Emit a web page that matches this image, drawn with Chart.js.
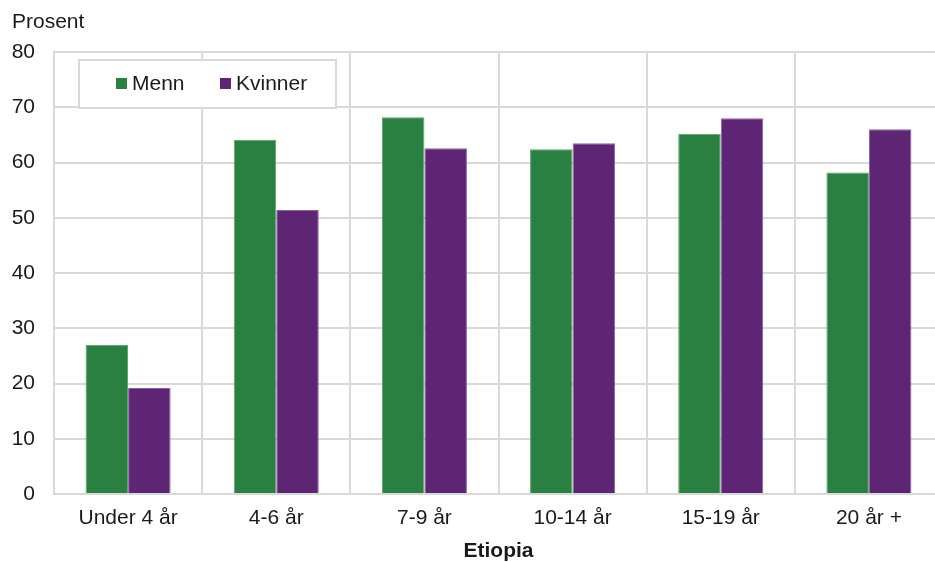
<!DOCTYPE html>
<html>
<head>
<meta charset="utf-8">
<script src="https://cdn.jsdelivr.net/npm/chart.js@4"></script>
<style>
  html, body { margin: 0; padding: 0; background: #fff; overflow: hidden; }
  #wrap { position: relative; width: 950px; height: 562px; }
</style>
</head>
<body>
<div id="wrap"><canvas id="chart"></canvas></div>
<script>
const categories = ['Under 4 år', '4-6 år', '7-9 år', '10-14 år', '15-19 år', '20 år +'];
const menn = [27.0, 64.1, 68.2, 62.4, 65.2, 58.2];
const kvinner = [19.2, 51.4, 62.6, 63.5, 68.0, 66.0];
const seriesNames = ['Menn', 'Kvinner'];
const yTitle = 'Prosent';
const xTitle = 'Etiopia';

const green = '#2a8040';
const purple = '#5e2574';
const gridColor = '#d9d9d9';
const fontStr = "21px 'Liberation Sans', Arial, sans-serif";

Chart.defaults.font.family = "'Liberation Sans', Arial, sans-serif";
Chart.defaults.font.size = 21;
Chart.defaults.color = '#1a1a1a';

// legend box sits inside the plot, over the grid
const boxLegend = {
  id: 'boxLegend',
  afterDatasetsDraw(chart) {
    const ctx = chart.ctx;
    ctx.save();
    ctx.fillStyle = '#fff';
    ctx.fillRect(79, 60, 257, 48);
    ctx.strokeStyle = gridColor;
    ctx.lineWidth = 2;
    ctx.strokeRect(79, 60, 257, 48);
    const xs = [116, 220];
    ctx.font = fontStr;
    ctx.textBaseline = 'middle';
    chart.data.datasets.forEach((ds, i) => {
      ctx.fillStyle = ds.backgroundColor;
      ctx.fillRect(xs[i], 78, 11, 11);
      ctx.fillStyle = '#1a1a1a';
      ctx.fillText(ds.label, xs[i] + 16, 84);
    });
    ctx.restore();
  }
};

// "Prosent" label above the y axis
const topLabel = {
  id: 'topLabel',
  afterDraw(chart) {
    const ctx = chart.ctx;
    ctx.save();
    ctx.font = fontStr;
    ctx.fillStyle = '#1a1a1a';
    ctx.textBaseline = 'middle';
    ctx.fillText(yTitle, 12, 22);
    ctx.restore();
  }
};

new Chart(document.getElementById('chart'), {
  type: 'bar',
  data: {
    labels: categories,
    datasets: [
      { label: seriesNames[0], data: menn, backgroundColor: green, borderColor: '#5a9e6c', borderWidth: 1 },
      { label: seriesNames[1], data: kvinner, backgroundColor: purple, borderColor: '#8a62a0', borderWidth: 1 }
    ]
  },
  options: {
    responsive: true,
    maintainAspectRatio: false,
    animation: false,
    layout: { padding: { top: 52, right: 7, left: 0, bottom: 0 } },
    datasets: { bar: { barPercentage: 1, categoryPercentage: 0.574 } },
    plugins: {
      legend: { display: false },
      tooltip: { enabled: false }
    },
    scales: {
      x: {
        grid: { color: gridColor, lineWidth: 2, drawTicks: false, offset: true },
        border: { color: gridColor, width: 2 },
        ticks: { padding: 12, maxRotation: 0 },
        title: { display: true, text: xTitle, font: { weight: 'bold', size: 21, lineHeight: 1.05 }, padding: { top: 4, bottom: 0 } },
        afterFit(scale) { scale.height = 68; }
      },
      y: {
        min: 0,
        max: 80,
        ticks: { stepSize: 10, padding: 19 },
        grid: { color: gridColor, lineWidth: 2, drawTicks: false },
        border: { color: gridColor, width: 2 },
        afterFit(scale) { scale.width = 54; }
      }
    }
  },
  plugins: [boxLegend, topLabel]
});
</script>
</body>
</html>
